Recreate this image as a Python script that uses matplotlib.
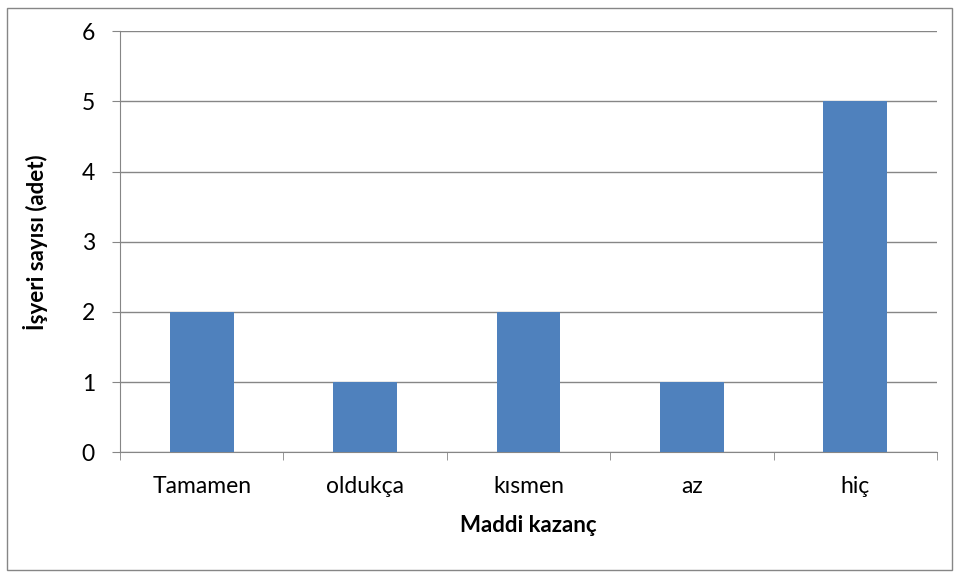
import matplotlib
matplotlib.use("Agg")
import matplotlib.pyplot as plt
from matplotlib.patches import Rectangle
import numpy as np

categories = ["Tamamen", "oldukça", "kısmen", "az", "hiç"]
counts = [2, 1, 2, 1, 5]
y_ticks = [0, 1, 2, 3, 4, 5, 6]

plt.rcParams['font.family'] = ['Lato', 'DejaVu Sans']

fig = plt.figure(figsize=(9.6, 5.79), dpi=100)
ax = fig.add_axes([0.125, 0.219, 0.851, 0.727])

x = np.arange(len(categories))
ax.bar(x, counts, width=0.39, color="#4F81BD", zorder=3)

ax.set_xlim(-0.5, len(categories) - 0.5)
ax.set_ylim(0, 6)
ax.set_yticks(y_ticks)
ax.set_xticks(x)
ax.set_xticklabels(categories, fontsize=16.5)
ax.tick_params(axis="x", length=0, pad=17)
ax.set_xticks(np.arange(-0.5, len(categories)), minor=True)
ax.tick_params(axis="x", which="minor", length=6, color="#868686")
ax.tick_params(axis="y", labelsize=16.5, length=6, color="#868686", pad=12)

ax.grid(axis="y", color="#868686", linewidth=1, zorder=0)
for side in ["top", "right"]:
    ax.spines[side].set_visible(False)
for side in ["left", "bottom"]:
    ax.spines[side].set_color("#868686")

ax.set_xlabel("Maddi kazanç", fontsize=16, fontweight="bold", labelpad=13)
ax.set_ylabel("İşyeri sayısı (adet)", fontsize=16, fontweight="bold", labelpad=24)

fig.patches.append(Rectangle((0.007, 0.015), 0.985, 0.972, transform=fig.transFigure,
                             fill=False, edgecolor="#868686", linewidth=1))

fig.savefig("out.png", dpi=100)
